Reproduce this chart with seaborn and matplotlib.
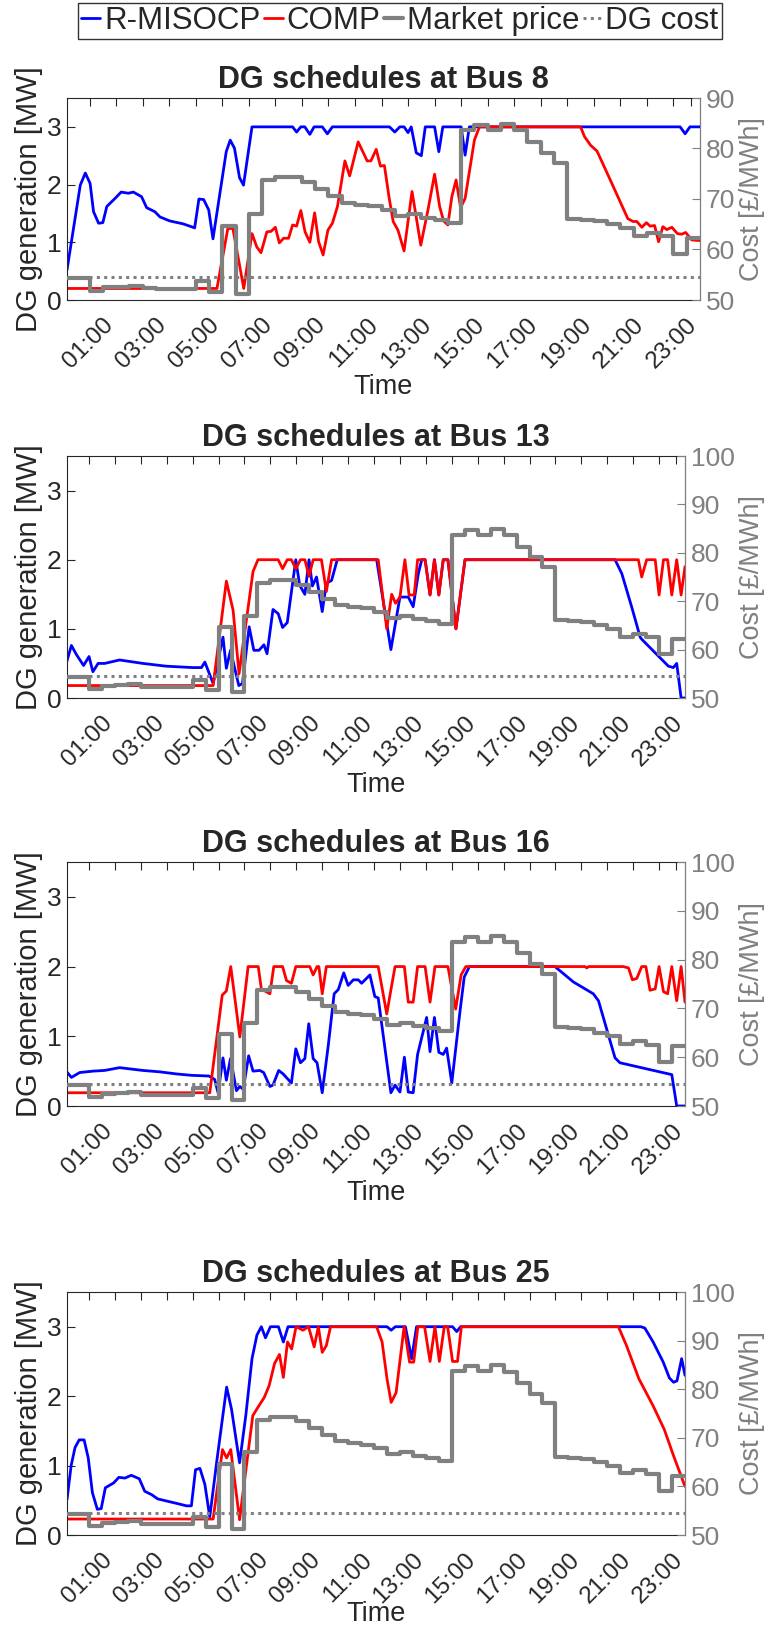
import numpy as np
import matplotlib
matplotlib.use('Agg')
import matplotlib.pyplot as plt
import matplotlib.transforms as mtransforms
from matplotlib.lines import Line2D
import seaborn as sns

# market price, half-hourly [£/MWh]
price_start_h = np.arange(0, 24, 0.5)
market_price = [54.3, 54.4, 51.8, 52.5, 52.6, 52.8, 52.3, 52.2, 52.2, 52.2,
                53.7, 51.6, 64.7, 51.2, 67.0, 73.7, 74.3, 74.3, 73.4, 72.0,
                70.5, 69.3, 68.9, 68.6, 67.8, 66.6, 67.0, 66.3, 65.9, 65.3,
                83.7, 84.7, 83.7, 84.9, 83.6, 81.3, 79.1, 77.1, 66.1, 65.9,
                65.7, 65.0, 64.3, 62.7, 63.3, 62.6, 59.1, 62.2]
dg_cost = 54.6

# DG schedules as (hour, MW) vertices
bus8_rmisocp = [(0.15, 0.52), (0.65, 1.99), (0.84, 2.20), (1.02, 2.02), (1.15, 1.53), (1.34, 1.33),
                (1.5, 1.34), (1.65, 1.62), (1.96, 1.76), (2.19, 1.87), (2.46, 1.85), (2.65, 1.87),
                (2.96, 1.79), (3.15, 1.60), (3.46, 1.53), (3.65, 1.44), (4.02, 1.37), (4.52, 1.32),
                (4.96, 1.25), (5.12, 1.75), (5.3, 1.74), (5.49, 1.56), (5.65, 1.06), (6.15, 2.57),
                (6.3, 2.77), (6.46, 2.63), (6.65, 2.12), (6.8, 1.99), (7.12, 3.0), (8.65, 3.0),
                (8.8, 2.91), (8.96, 3.0), (9.11, 3.0), (9.3, 2.87), (9.46, 3.0), (9.77, 3.0),
                (9.96, 2.88), (10.15, 3.0), (12.3, 3.0), (12.5, 2.91), (12.69, 3.0), (12.85, 3.0),
                (13.0, 2.9), (13.12, 3.0), (13.31, 2.55), (13.5, 2.5), (13.65, 3.0), (14.0, 3.0),
                (14.16, 2.57), (14.31, 3.0), (15.0, 3.0), (15.15, 2.51), (15.31, 3.0), (23.25, 3.0),
                (23.44, 2.88), (23.62, 3.0), (24.0, 3.0)]
bus8_comp = [(0.15, 0.2), (5.8, 0.2), (6.21, 1.24), (6.4, 1.24), (6.81, 0.2), (7.12, 1.15),
             (7.3, 0.92), (7.46, 0.82), (7.68, 1.18), (7.84, 1.19), (8.0, 1.26), (8.15, 0.99),
             (8.31, 1.07), (8.5, 1.07), (8.65, 1.30), (8.8, 1.28), (8.96, 1.55), (9.12, 1.18),
             (9.3, 1.0), (9.48, 1.51), (9.63, 1.01), (9.8, 0.78), (9.98, 1.21), (10.15, 1.33),
             (10.34, 1.62), (10.62, 2.41), (10.8, 2.15), (11.12, 2.74), (11.46, 2.41), (11.6, 2.41),
             (11.8, 2.61), (11.96, 2.32), (12.11, 2.33), (12.28, 1.79), (12.44, 1.36), (12.62, 1.21),
             (12.85, 0.85), (13.15, 1.88), (13.48, 0.95), (13.75, 1.56), (14.0, 2.18), (14.19, 1.62),
             (14.34, 1.37), (14.5, 1.30), (14.65, 1.79), (14.81, 2.08), (14.98, 1.60), (15.15, 1.76),
             (15.5, 2.77), (15.69, 3.0), (19.5, 3.0), (19.65, 2.83), (19.88, 2.68), (20.12, 2.58),
             (20.56, 2.14), (21.28, 1.41), (21.48, 1.36), (21.62, 1.36), (21.81, 1.26), (21.98, 1.34),
             (22.12, 1.28), (22.29, 1.29), (22.44, 1.01), (22.6, 1.27), (22.75, 1.22), (22.94, 1.26),
             (23.15, 1.15), (23.31, 1.14), (23.46, 1.17), (23.69, 1.04), (24.0, 1.03)]

bus13_rmisocp = [(0.12, 0.50), (0.32, 0.76), (0.51, 0.63), (0.79, 0.47), (1.0, 0.60), (1.15, 0.38),
                 (1.35, 0.50), (1.6, 0.50), (2.18, 0.55), (3.08, 0.50), (3.98, 0.46), (5.0, 0.44),
                 (5.34, 0.44), (5.47, 0.52), (5.79, 0.21), (6.17, 0.88), (6.3, 0.43), (6.46, 0.69),
                 (6.78, 0.18), (6.92, 0.21), (7.18, 1.03), (7.36, 0.69), (7.56, 0.69), (7.75, 0.77),
                 (7.87, 0.64), (8.1, 1.28), (8.3, 1.22), (8.47, 1.02), (8.65, 1.09), (8.98, 2.0),
                 (9.13, 1.63), (9.33, 1.50), (9.49, 2.0), (9.62, 1.62), (9.78, 1.75), (10.0, 1.25),
                 (10.16, 1.66), (10.36, 1.70), (10.58, 2.0), (12.1, 2.0), (12.65, 0.70), (13.0, 1.46),
                 (13.32, 1.46), (13.51, 1.32), (13.71, 1.80), (13.84, 2.0), (13.97, 2.0), (14.16, 1.49),
                 (14.33, 2.0), (14.5, 1.49), (14.67, 2.0), (14.85, 2.0), (15.16, 1.0), (15.51, 2.0),
                 (21.3, 2.0), (21.56, 1.80), (21.94, 1.32), (22.27, 0.88), (22.33, 0.85), (23.36, 0.46),
                 (23.55, 0.44), (23.68, 0.50), (23.85, 0.0), (24.0, 0.0)]
bus13_comp = [(0.12, 0.18), (5.79, 0.18), (6.3, 1.69), (6.56, 1.27), (6.79, 0.35), (7.33, 1.83),
              (7.52, 2.0), (8.3, 2.0), (8.47, 1.87), (8.65, 2.0), (8.81, 2.0), (8.98, 1.87),
              (9.16, 2.0), (9.33, 2.0), (9.49, 1.76), (9.65, 2.0), (9.97, 2.0), (10.16, 1.54),
              (10.36, 2.0), (12.16, 2.0), (12.49, 1.0), (12.68, 1.5), (12.83, 1.37), (13.0, 1.46),
              (13.19, 2.0), (13.35, 1.49), (13.55, 1.49), (13.68, 2.0), (13.97, 2.0), (14.16, 1.49),
              (14.33, 2.0), (14.5, 1.49), (14.67, 2.0), (14.85, 2.0), (15.16, 1.0), (15.51, 2.0),
              (22.2, 2.0), (22.33, 1.75), (22.52, 2.0), (22.85, 2.0), (23.0, 1.49), (23.17, 2.0),
              (23.33, 2.0), (23.49, 1.49), (23.68, 2.0), (23.85, 1.49), (24.0, 1.90)]

bus16_rmisocp = [(0.12, 0.50), (0.32, 0.41), (0.64, 0.48), (1.15, 0.50), (1.6, 0.51), (2.18, 0.55),
                 (3.08, 0.51), (3.73, 0.49), (4.37, 0.46), (4.95, 0.44), (5.63, 0.43), (5.85, 0.38),
                 (5.98, 0.19), (6.17, 0.69), (6.3, 0.37), (6.46, 0.68), (6.69, 0.22), (6.82, 0.28),
                 (6.95, 0.24), (7.16, 0.72), (7.33, 0.50), (7.59, 0.51), (7.74, 0.48), (7.98, 0.28),
                 (8.1, 0.30), (8.32, 0.51), (8.49, 0.46), (8.81, 0.33), (8.98, 0.82), (9.16, 0.62),
                 (9.33, 0.68), (9.48, 1.18), (9.65, 0.68), (9.8, 0.62), (10.0, 0.19), (10.23, 0.86),
                 (10.46, 1.61), (10.62, 1.67), (10.83, 1.91), (11.0, 1.73), (11.2, 1.81), (11.39, 1.81),
                 (11.52, 1.76), (11.84, 1.88), (12.03, 1.57), (12.16, 1.55), (12.65, 0.19), (12.81, 0.3),
                 (13.0, 0.2), (13.17, 0.70), (13.32, 0.2), (13.51, 0.19), (13.68, 0.74), (14.03, 1.27),
                 (14.16, 0.78), (14.33, 1.27), (14.5, 0.77), (14.67, 0.74), (14.8, 0.83), (15.0, 0.33),
                 (15.32, 1.37), (15.48, 1.85), (15.68, 2.0), (18.98, 2.0), (19.69, 1.78), (20.46, 1.61),
                 (20.66, 1.51), (21.3, 0.69), (21.49, 0.62), (23.49, 0.45), (23.68, 0.0), (24.0, 0.0)]
bus16_comp = [(0.12, 0.19), (5.66, 0.19), (6.14, 1.59), (6.3, 1.65), (6.47, 2.0), (6.82, 0.99),
              (7.14, 2.0), (7.53, 2.0), (7.65, 1.68), (7.98, 1.61), (8.13, 2.0), (8.47, 2.0),
              (8.62, 1.8), (8.81, 1.76), (8.98, 2.0), (9.52, 2.0), (9.65, 1.88), (9.8, 2.0),
              (9.87, 2.0), (10.0, 1.61), (10.16, 2.0), (12.16, 2.0), (12.49, 1.32), (12.68, 1.73),
              (12.81, 2.0), (13.17, 2.0), (13.32, 1.49), (13.51, 1.49), (13.68, 2.0), (13.97, 2.0),
              (14.16, 1.49), (14.35, 2.0), (14.67, 2.0), (14.85, 2.0), (15.15, 1.39), (15.36, 1.88),
              (15.54, 2.0), (20.14, 2.0), (20.21, 1.98), (20.28, 2.0), (21.62, 2.0), (21.82, 1.98),
              (21.97, 1.81), (22.14, 1.83), (22.33, 2.0), (22.49, 2.0), (22.65, 1.66), (22.85, 1.68),
              (23.0, 2.0), (23.17, 1.64), (23.33, 1.61), (23.49, 2.0), (23.68, 1.51), (23.85, 2.0),
              (24.0, 1.49)]

bus25_rmisocp = [(0.15, 0.51), (0.31, 1.0), (0.46, 1.26), (0.62, 1.37), (0.81, 1.37), (0.97, 1.11),
                 (1.13, 0.61), (1.32, 0.37), (1.47, 0.38), (1.63, 0.68), (1.95, 0.75), (2.15, 0.83),
                 (2.39, 0.82), (2.63, 0.86), (2.94, 0.81), (3.15, 0.63), (3.42, 0.58), (3.65, 0.52),
                 (4.44, 0.45), (4.76, 0.42), (4.95, 0.42), (5.11, 0.94), (5.28, 0.96), (5.47, 0.73),
                 (5.66, 0.26), (5.94, 1.09), (6.31, 2.13), (6.5, 1.81), (6.81, 1.04), (7.05, 1.72),
                 (7.29, 2.54), (7.48, 2.88), (7.65, 3.0), (7.81, 2.84), (8.0, 3.0), (8.31, 3.0),
                 (8.5, 2.78), (8.68, 3.0), (12.5, 3.0), (12.66, 2.95), (12.82, 3.0), (13.21, 3.0),
                 (13.45, 2.54), (13.64, 3.0), (15.03, 3.0), (15.19, 2.93), (15.34, 3.0), (22.3, 3.0),
                 (22.45, 2.98), (22.77, 2.78), (23.16, 2.49), (23.4, 2.26), (23.56, 2.2), (23.69, 2.22),
                 (23.87, 2.54), (24.0, 2.30)]
bus25_comp = [(0.15, 0.23), (5.79, 0.23), (6.15, 1.23), (6.31, 1.11), (6.47, 1.23), (6.81, 0.22),
              (7.32, 1.72), (7.52, 1.84), (7.76, 1.98), (7.95, 2.15), (8.16, 2.47), (8.35, 2.6),
              (8.5, 2.27), (8.66, 2.78), (8.82, 2.68), (8.99, 3.0), (9.26, 2.95), (9.47, 3.0),
              (9.69, 2.71), (9.85, 3.0), (10.0, 2.63), (10.16, 2.73), (10.32, 3.0), (12.1, 3.0),
              (12.31, 2.78), (12.5, 2.25), (12.66, 1.91), (12.85, 2.05), (13.16, 3.0), (13.37, 2.49),
              (13.53, 2.49), (13.69, 3.0), (13.95, 3.0), (14.16, 2.5), (14.35, 3.0), (14.52, 2.5),
              (14.71, 3.0), (14.84, 3.0), (15.03, 2.5), (15.22, 2.5), (15.37, 3.0), (21.43, 3.0),
              (21.74, 2.73), (22.22, 2.25), (22.77, 1.86), (23.2, 1.52), (23.56, 1.14), (24.0, 0.70)]

bus_names = ['8', '13', '16', '25']
cost_top = [90, 100, 100, 100]

sns.set_style('white')
plt.rcParams['font.family'] = ['Liberation Sans', 'DejaVu Sans']

W, H = 774, 1626
fig = plt.figure(figsize=(W / 100, H / 100), dpi=100)
# axes boxes in pixels: left, right, top, bottom
boxes = [(67, 700, 98, 300), (67, 685, 456, 698), (67, 685, 862, 1106), (67, 685, 1292, 1535)]
time_pad = [1, 1, 1, -5]

GRAY = (0.5, 0.5, 0.5)
INK = '#262626'
schedules = [(bus8_rmisocp, bus8_comp), (bus13_rmisocp, bus13_comp),
             (bus16_rmisocp, bus16_comp), (bus25_rmisocp, bus25_comp)]

price_t = list(price_start_h) + [24.0]
price_v = market_price + [market_price[-1]]
shift = mtransforms.ScaledTranslation(9 / 72, 0, fig.dpi_scale_trans)

for i in range(4):
    l, r, t, b = boxes[i]
    ax = fig.add_axes([l / W, 1 - b / H, (r - l) / W, (b - t) / H])
    rm, cp = schedules[i]
    sns.lineplot(x=[p[0] for p in rm], y=[p[1] for p in rm], ax=ax, color='b', lw=2.0,
                 sort=False, estimator=None)
    sns.lineplot(x=[p[0] for p in cp], y=[p[1] for p in cp], ax=ax, color='r', lw=2.0,
                 sort=False, estimator=None)
    ax.set_ylim(0, 3.5)
    ax.set_xlim(0.15, 24)
    ax.set_yticks([0, 1, 2, 3])
    hrs = list(range(1, 24))
    ax.set_xticks(hrs + [23.67])
    ax.set_xticklabels([f'{h:02d}:00' if h % 2 == 1 else '' for h in hrs] + [''])
    ax.tick_params(axis='x', direction='in', top=True, length=6, labelsize=17.5, pad=10,
                   rotation=45, colors=INK)
    for lbl in ax.get_xticklabels():
        lbl.set_ha('right')
        lbl.set_rotation_mode('anchor')
        lbl.set_transform(lbl.get_transform() + shift)
    ax.tick_params(axis='y', direction='in', length=6, labelsize=19, pad=4, colors=INK)
    ax.set_ylabel('DG generation [MW]', fontsize=21, labelpad=3)
    ax.set_xlabel('Time', fontsize=19.5, labelpad=time_pad[i])
    ax.set_title(f'DG schedules at Bus {bus_names[i]}', fontsize=22, fontweight='bold', pad=7)
    for s in ax.spines.values():
        s.set_color(INK)
        s.set_linewidth(0.8)

    ax2 = ax.twinx()
    sns.lineplot(x=price_t, y=price_v, ax=ax2, color=GRAY, lw=3.0, drawstyle='steps-post',
                 sort=False, estimator=None)
    ax2.axhline(dg_cost, color=GRAY, ls=(0, (1, 1.4)), lw=2.2)
    ax2.set_ylim(50, cost_top[i])
    ax2.set_yticks(np.arange(50, cost_top[i] + 1, 10))
    ax2.tick_params(axis='y', direction='in', length=6, labelsize=19, pad=4, colors=GRAY)
    ax2.set_ylabel('Cost [£/MWh]', fontsize=19.5, color=GRAY, labelpad=3)
    ax2.spines['right'].set_color(GRAY)
    ax2.spines['right'].set_linewidth(0.8)
    for k in ['left', 'top', 'bottom']:
        ax2.spines[k].set_visible(False)

handles = [Line2D([], [], color='b', lw=2.0), Line2D([], [], color='r', lw=2.0),
           Line2D([], [], color=GRAY, lw=3.0), Line2D([], [], color=GRAY, lw=2.2, ls=(0, (1, 1.4)))]
labels = ['R-MISOCP', 'COMP', 'Market price', 'DG cost']
fig.legend(handles, labels, loc='upper center', bbox_to_anchor=(400 / W, 1 - 3 / H), ncol=4,
           handlelength=0.6, handletextpad=0.12, columnspacing=0.12, fontsize=22.5,
           frameon=True, fancybox=False, edgecolor='black', borderpad=0.1, borderaxespad=0)

fig.savefig('out.png', dpi=100)
